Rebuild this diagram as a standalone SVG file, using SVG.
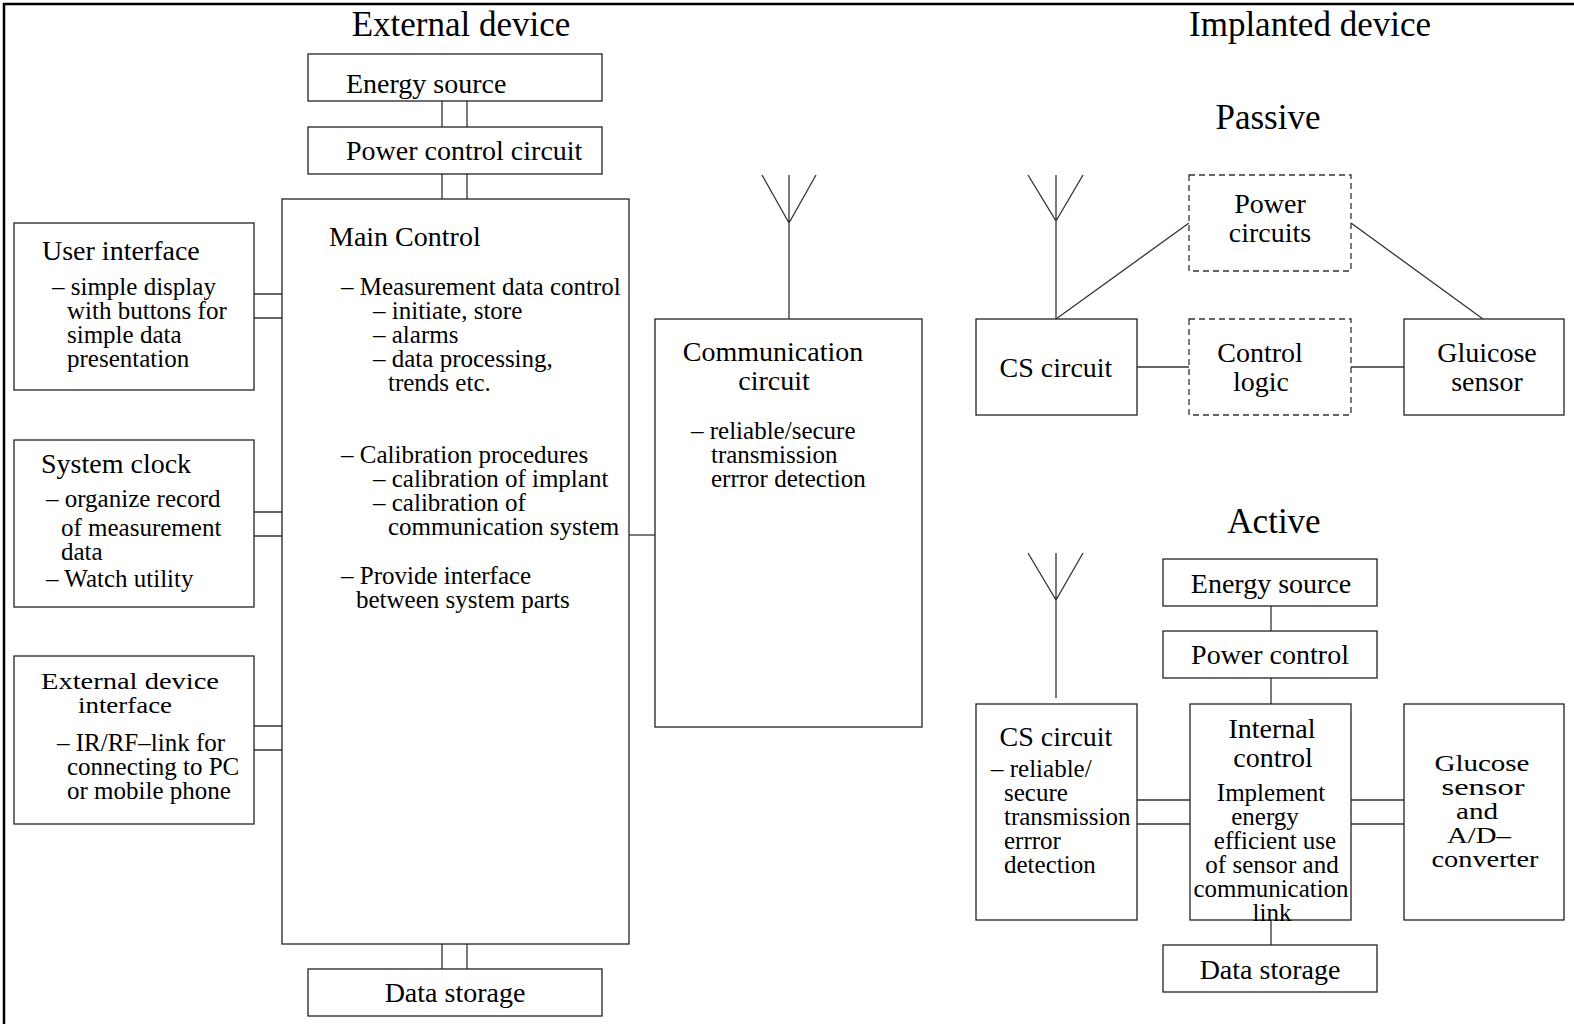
<svg xmlns="http://www.w3.org/2000/svg" width="1574" height="1024" viewBox="0 0 1574 1024">
<style>
text{font-family:"Liberation Serif","Times New Roman",serif;fill:#000}
.t{font-size:35px}
.h{font-size:28px}
.h2{font-size:24px}
.b{font-size:25px}
.m{text-anchor:middle}
.box{fill:#fff;stroke:#222;stroke-width:1.3}
.dash{fill:#fff;stroke:#333;stroke-width:1.3;stroke-dasharray:6 4}
.ln{fill:none;stroke:#333;stroke-width:1.3}
</style>
<rect x="0" y="0" width="1574" height="1024" fill="#fff"/>
<path d="M4 1024 V4 H1574" fill="none" stroke="#000" stroke-width="2.5"/>

<text class="t m" x="461" y="36">External device</text>
<text class="t m" x="1310" y="36">Implanted device</text>
<text class="t m" x="1268" y="129">Passive</text>
<text class="t m" x="1274" y="533">Active</text>

<g id="connectors">
<path class="ln" d="M442 101V127M467 101V127M442 174V199M467 174V199M442 944V969M467 944V969"/>
<path class="ln" d="M254 294H282M254 318H282M254 512H282M254 536H282M254 726H282M254 750H282"/>
<path class="ln" d="M628 535H655"/>
<path class="ln" d="M762 175L789 223L816 175M789 175V319"/>
<path class="ln" d="M1028 175L1056 221L1083 175M1056 175V319"/>
<path class="ln" d="M1056 319L1189 223M1351 223L1483 319M1137 367H1189M1351 367H1404"/>
<path class="ln" d="M1028 553L1056 600L1083 553M1056 553V698"/>
<path class="ln" d="M1271 606V631M1271 678V704M1271 920V945"/>
<path class="ln" d="M1137 800H1190M1137 824H1190M1351 800H1404M1351 824H1404"/>
</g>

<g id="ext-energy"><rect class="box" x="308" y="54" width="294" height="47"/><text class="h" x="346" y="93">Energy source</text></g>
<g id="ext-power"><rect class="box" x="308" y="127" width="294" height="47"/><text class="h" x="346" y="160">Power control circuit</text></g>
<g id="main-control"><rect class="box" x="282" y="199" width="347" height="745"/>
<text class="h" x="329" y="246">Main Control</text>
<text class="b" x="341" y="295">– Measurement data control</text>
<text class="b" x="373" y="319">– initiate, store</text>
<text class="b" x="373" y="343">– alarms</text>
<text class="b" x="373" y="367">– data processing,</text>
<text class="b" x="388" y="391">trends etc.</text>
<text class="b" x="341" y="463">– Calibration procedures</text>
<text class="b" x="373" y="487">– calibration of implant</text>
<text class="b" x="373" y="511">– calibration of</text>
<text class="b" x="388" y="535">communication system</text>
<text class="b" x="341" y="584">– Provide interface</text>
<text class="b" x="356" y="608">between system parts</text>
</g>
<g id="ext-storage"><rect class="box" x="308" y="969" width="294" height="47"/><text class="h m" x="455" y="1002">Data storage</text></g>
<g id="user-interface"><rect class="box" x="14" y="223" width="240" height="167"/>
<text class="h" x="42" y="260">User interface</text>
<text class="b" x="52" y="295">– simple display</text>
<text class="b" x="67" y="319">with buttons for</text>
<text class="b" x="67" y="343">simple data</text>
<text class="b" x="67" y="367">presentation</text>
</g>
<g id="system-clock"><rect class="box" x="14" y="440" width="240" height="167"/>
<text class="h" x="41" y="473">System clock</text>
<text class="b" x="46" y="507">– organize record</text>
<text class="b" x="61" y="536">of measurement</text>
<text class="b" x="61" y="560">data</text>
<text class="b" x="46" y="587">– Watch utility</text>
</g>
<g id="ext-device-interface"><rect class="box" x="14" y="656" width="240" height="168"/>
<text class="h2" x="41" y="689" textLength="178" lengthAdjust="spacingAndGlyphs">External device</text>
<text class="h2" x="78" y="713" textLength="94" lengthAdjust="spacingAndGlyphs">interface</text>
<text class="b" x="57" y="751">– IR/RF–link for</text>
<text class="b" x="67" y="775">connecting to PC</text>
<text class="b" x="67" y="799">or mobile phone</text>
</g>
<g id="comm-circuit"><rect class="box" x="655" y="319" width="267" height="408"/>
<text class="h m" x="773" y="361">Communication</text>
<text class="h m" x="774" y="390">circuit</text>
<text class="b" x="691" y="439">– reliable/secure</text>
<text class="b" x="711" y="463">transmission</text>
<text class="b" x="711" y="487">errror detection</text>
</g>

<g id="p-power"><rect class="dash" x="1189" y="175" width="162" height="96"/>
<text class="h m" x="1270" y="213">Power</text><text class="h m" x="1270" y="242">circuits</text></g>
<g id="p-cs"><rect class="box" x="976" y="319" width="161" height="96"/><text class="h m" x="1056" y="377">CS circuit</text></g>
<g id="p-control"><rect class="dash" x="1189" y="319" width="162" height="96"/>
<text class="h m" x="1260" y="362">Control</text><text class="h m" x="1261" y="391">logic</text></g>
<g id="p-glucose"><rect class="box" x="1404" y="319" width="160" height="96"/>
<text class="h m" x="1487" y="362">Gluicose</text><text class="h m" x="1487" y="391">sensor</text></g>

<g id="a-energy"><rect class="box" x="1163" y="559" width="214" height="47"/><text class="h m" x="1271" y="593">Energy source</text></g>
<g id="a-power"><rect class="box" x="1163" y="631" width="214" height="47"/><text class="h m" x="1270" y="664">Power control</text></g>
<g id="a-cs"><rect class="box" x="976" y="704" width="161" height="216"/>
<text class="h m" x="1056" y="746">CS circuit</text>
<text class="b" x="991" y="777">– reliable/</text>
<text class="b" x="1004" y="801">secure</text>
<text class="b" x="1004" y="825">transmission</text>
<text class="b" x="1004" y="849">errror</text>
<text class="b" x="1004" y="873">detection</text>
</g>
<g id="a-internal"><rect class="box" x="1190" y="704" width="161" height="216"/>
<text class="h m" x="1272" y="738">Internal</text>
<text class="h m" x="1273" y="767">control</text>
<text class="b m" x="1271" y="801">Implement</text>
<text class="b m" x="1265" y="825">energy</text>
<text class="b m" x="1275" y="849">efficient use</text>
<text class="b m" x="1272" y="873">of sensor and</text>
<text class="b m" x="1271" y="897" textLength="155" lengthAdjust="spacingAndGlyphs">communication</text>
<text class="b m" x="1272" y="921">link</text>
</g>
<g id="a-glucose"><rect class="box" x="1404" y="704" width="160" height="216"/>
<text class="h2 m" x="1482" y="771" textLength="95" lengthAdjust="spacingAndGlyphs">Glucose</text>
<text class="h2 m" x="1483" y="795" textLength="83" lengthAdjust="spacingAndGlyphs">sensor</text>
<text class="h2 m" x="1477" y="819" textLength="42" lengthAdjust="spacingAndGlyphs">and</text>
<text class="h2 m" x="1479" y="843" textLength="64" lengthAdjust="spacingAndGlyphs">A/D–</text>
<text class="h2 m" x="1485" y="867" textLength="107" lengthAdjust="spacingAndGlyphs">converter</text>
</g>
<g id="a-storage"><rect class="box" x="1163" y="945" width="214" height="47"/><text class="h m" x="1270" y="979">Data storage</text></g>
</svg>
